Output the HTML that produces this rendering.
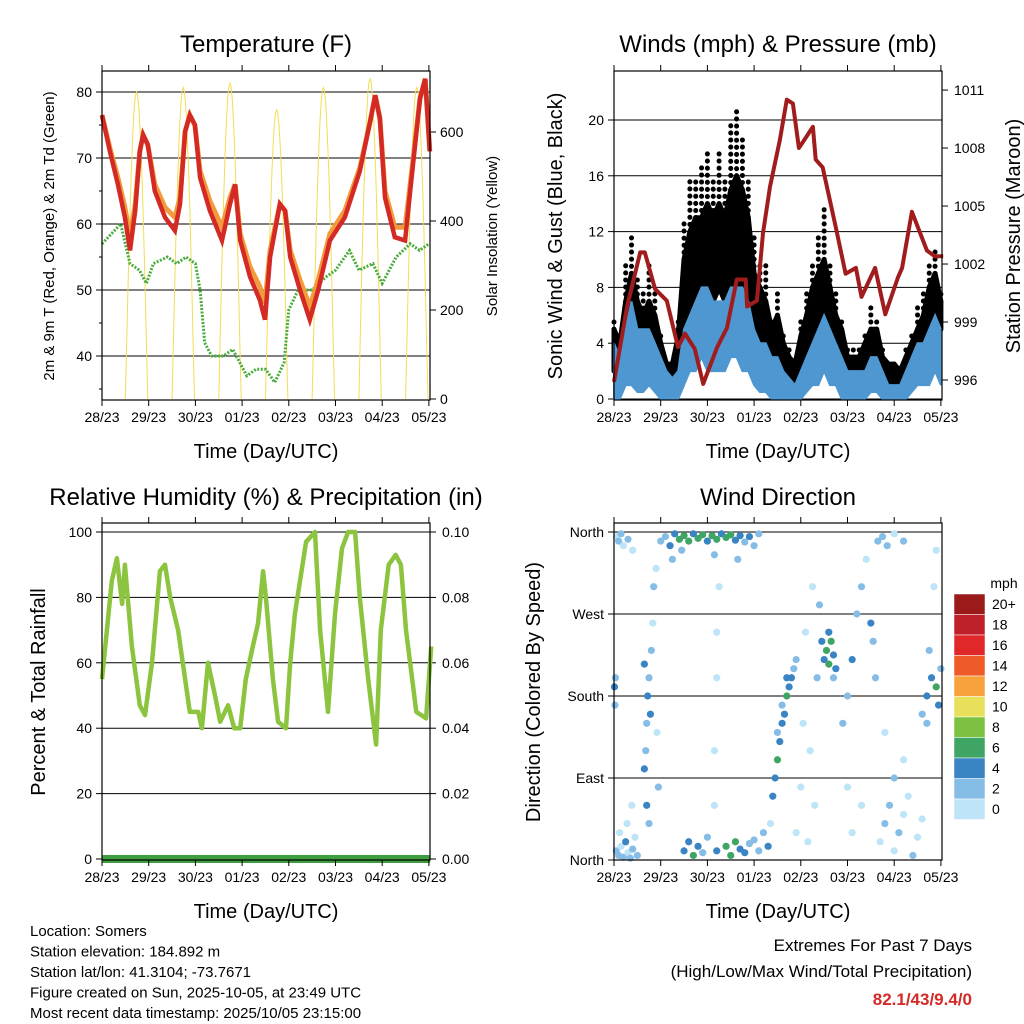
<!DOCTYPE html>
<html><head><meta charset="utf-8">
<style>
body{margin:0;background:#fff;}
svg{display:block;font-family:"Liberation Sans",Arial,sans-serif;}
</style></head>
<body>
<svg id="c" width="1024" height="1024" viewBox="0 0 1024 1024" xmlns="http://www.w3.org/2000/svg"></svg>
<script>
// ---------- DATA ----------
const dayLabels = ["28/23","29/23","30/23","01/23","02/23","03/23","04/23","05/23"];
const tempDays = [0,0.17,0.34,0.49,0.6,0.71,0.81,0.88,0.98,1.13,1.35,1.56,1.67,1.78,1.88,1.99,2.1,2.31,2.57,2.74,2.85,2.96,3.17,3.38,3.49,3.6,3.81,3.92,4.03,4.24,4.45,4.63,4.88,5.2,5.52,5.74,5.85,5.95,6.06,6.27,6.49,6.6,6.81,6.92,7.02];
const temp2m = [76.5,71,66,61,56,62,71,73.5,72,65,61,59,63,74,76.5,75,67,62,57.5,63,66,57.5,52,48.5,45.5,55,63,62,55,50,45.5,50,57.5,61,68,75.5,79.5,76,64,58,57.5,65,79,82,71];
const temp9mOffset = [0,0.5,1,1.5,2,1,0,0,0,1,1.5,2,1,0,0,0,1,1.5,2,1,0,1,1.5,2,2.5,1,0,0,1,1.5,2,1.5,1,1,0.5,0,0,0,1,1.5,2,1,0,0,0];
const dewDays = [0,0.2,0.4,0.5,0.6,0.8,0.95,1.1,1.4,1.6,1.8,2.0,2.1,2.2,2.35,2.6,2.8,2.95,3.1,3.3,3.5,3.7,3.9,4.0,4.2,4.5,4.8,5.0,5.3,5.5,5.8,6.0,6.3,6.6,6.8,7.0];
const dewVals = [57,58.5,60,57,54,53,51,54,55,54,55,54,50,42,40,40,41,39,37,38,38,36,39,47,50,50,52,53,56,53,54,51,55,57,56,57];
const solarPeakDays = [0.74,1.74,2.74,3.74,4.74,5.74,6.74];
const solarPeaks = [690,700,710,650,700,720,700];
const gustHi = [6,5,10,12,9,8,10,8,5,3,3,6,13,16,16,17,18,16,18,16,20,21,19,16,12,10,10,6,8,5,4,3,6,8,10,12,14,10,8,6,4,4,4,5,7,6,4,3,3,2.5,4,5,7,8,10,11,8];
const gustLo = [2,2,4,5,4,3,4,3,2,1,1,2,5,6,7,8,8,7,8,7,8,8,8,7,5,4,4,3,3,2,1.5,1,2,3,4,5,6,5,4,3,2,2,2,2,3,3,2,1,1,1,2,3,4,4,5,6,5];
const gustCore = [5,4,7,9,7,6,7,6,4,2.5,2.5,4.5,10,12,13,13,14,13,14,13,15,16,15,13,9,8,7,5,6,4,3,2.5,4.5,6,8,9,10,8,6,5,3,3,3,4,5,5,3,2.5,2.5,2,3,4,5,6,8,9,7];
const sonicHi = [4,3,5,7,5,5,5,4,3,2,1.5,2,5,6,7,8,8,7,7,7,8,8,8,7,5,4,4,3,3,2,1.5,1,2,3,4,5,6,5,4,3,2,2,2,2,3,3,2,1,1,1,2,3,4,4,5,6,5];
const sonicLo = [0,0,1,1,0.5,0.5,1,0.5,0,0,0,0,1,2,2,3,2,2,2,2,3,3,2,2,1,0.5,0.5,0,0,0,0,0,0,0.5,1,1,2,1,1,0,0,0,0,0,0.5,0.5,0,0,0,0,0,0.5,1,1,1,2,1];
const presDays = [0,0.28,0.56,0.66,0.88,1.13,1.37,1.52,1.73,1.91,2.21,2.42,2.63,2.82,2.85,3.06,3.19,3.34,3.55,3.7,3.83,3.96,4.07,4.26,4.32,4.47,4.75,4.96,5.18,5.3,5.59,5.81,6.08,6.17,6.38,6.7,6.87,7.05];
const presVals = [995.9,999.8,1002.6,1002.6,1000.7,1000.1,997.7,998.4,997.6,995.8,997.7,998.7,1001.2,1001.2,999.8,1000.1,1003.6,1006.0,1008.4,1010.5,1010.3,1008.0,1008.4,1009.1,1007.4,1007.0,1003.9,1001.5,1001.8,1000.3,1001.8,999.4,1001.3,1001.8,1004.7,1002.7,1002.4,1002.4];
const rhDays = [0,0.21,0.32,0.43,0.49,0.64,0.81,0.92,1.07,1.24,1.35,1.46,1.63,1.78,1.88,2.06,2.14,2.27,2.42,2.53,2.7,2.83,2.96,3.08,3.23,3.34,3.45,3.51,3.66,3.77,3.94,4.03,4.13,4.24,4.37,4.56,4.67,4.84,4.99,5.14,5.27,5.42,5.52,5.7,5.87,5.97,6.14,6.29,6.4,6.51,6.73,6.94,7.05];
const rhVals = [55,85,92,78,90,65,47,44,60,88,90,80,70,55,45,45,40,60,50,42,47,40,40,55,65,72,88,80,55,42,40,60,75,85,97,100,70,45,75,95,100,100,80,55,35,70,90,93,90,70,45,43,65];
const dirPts = [[0.05,10,2],[0.1,5,3],[0.15,15,1],[0.2,3,2],[0.25,20,4],[0.3,8,1],[0.35,2,3],[0.4,12,2],[0.45,25,1],[0.5,5,2],[0.12,30,1],[0.28,40,0],[0.38,60,1],
[0.05,355,1],[0.1,350,2],[0.15,358,3],[0.2,345,1],[0.3,352,2],[0.4,340,1],[0.01,190,4],[0.02,170,3],[0.03,200,2],
[0.65,100,4],[0.68,120,3],[0.7,150,2],[0.72,180,4],[0.75,200,3],[0.8,230,2],[0.83,260,1],[0.85,300,2],[0.9,320,1],[0.95,80,2],[0.7,60,4],[0.75,40,3],[0.65,215,4],[0.78,160,5],[0.92,140,1],
[1.0,350,2],[1.1,355,3],[1.2,345,4],[1.3,358,5],[1.4,352,6],[1.5,356,7],[1.6,350,6],[1.7,358,5],[1.8,353,7],[1.9,357,6],[2.0,350,5],[2.1,356,6],[2.2,352,7],[2.3,358,5],[2.4,354,6],[2.5,357,7],[2.6,351,5],[2.7,356,4],[2.8,349,3],[2.9,355,4],[3.0,345,2],[3.1,358,3],[1.25,330,3],[1.45,340,2],[2.15,335,3],[2.65,330,2],
[1.5,10,4],[1.6,20,5],[1.7,5,6],[1.8,15,4],[1.9,8,3],[2.0,25,2],[2.2,10,4],[2.4,15,6],[2.5,5,7],[2.6,20,6],[2.7,12,5],[2.8,8,4],[2.9,18,3],[3.0,22,2],[3.1,10,3],[3.2,30,2],[3.3,15,4],[3.35,40,1],
[2.15,60,0],[2.15,120,0],[2.2,200,1],[2.2,250,0],[2.25,300,1],
[3.4,70,4],[3.45,90,5],[3.5,110,6],[3.55,130,4],[3.6,150,5],[3.65,160,4],[3.7,180,6],[3.75,190,5],[3.8,200,4],[3.85,210,3],[3.9,220,2],[3.5,140,3],[3.6,170,3],[3.7,200,4],
[3.9,30,0],[4.0,80,1],[4.05,150,0],[4.1,250,1],[4.15,20,0],[4.2,120,1],[4.25,300,0],[4.3,60,1],[4.35,200,2],[4.4,280,3],[4.45,240,4],
[4.5,220,5],[4.55,230,6],[4.6,215,7],[4.65,240,6],[4.7,225,5],[4.75,210,4],[4.6,250,5],[4.7,200,3],
[4.9,150,3],[5.0,180,2],[5.1,220,4],[5.2,270,3],[5.3,300,2],[5.4,330,1],[5.5,260,4],[5.55,240,3],[5.6,200,2],[5.65,350,3],[5.0,80,1],[5.1,30,0],[5.3,60,1],
[5.7,20,1],[5.8,40,2],[5.9,60,3],[6.0,10,1],[6.1,30,2],[6.2,50,0],[6.3,70,1],[6.4,5,2],[6.5,25,1],[6.6,45,0],[6.0,90,2],[6.2,110,1],[5.8,140,0],
[5.75,355,2],[5.85,345,3],[6.0,358,1],[6.2,350,2],
[6.6,160,3],[6.7,180,4],[6.8,200,5],[6.9,190,6],[6.95,170,4],[7.0,210,3],[6.75,230,2],[6.85,300,1],[6.9,340,0],[6.7,150,3]];
const cbarLabels = ["20+","18","16","14","12","10","8","6","4","2","0"];
const cbarColors = ["#9b1a1a","#c0202a","#e0282a","#ef5a28","#f7a23c","#e8e05a","#7cc142","#3fa564","#3a84c4","#86bde6","#bde4f7"];

// ---------- HELPERS ----------
const NS="http://www.w3.org/2000/svg";
const svg=document.getElementById('c');
function mk(tag,attrs,parent){const e=document.createElementNS(NS,tag);for(const k in attrs)e.setAttribute(k,attrs[k]);(parent||svg).appendChild(e);return e;}
function txt(s,x,y,size,anchor,parent,extra){const t=mk('text',Object.assign({x:x,y:y,'font-size':size,'text-anchor':anchor||'middle',fill:'#000'},extra||{}),parent);t.textContent=s;return t;}
const DAYPX=46.7;
function panel(name){
  const g=mk('g',{});
  
  
  return g;
}
function frame(g,px,py,w,h){
  mk('rect',{x:px,y:py,width:w,height:h,fill:'none',stroke:'#000','stroke-width':1.2},g);
  dayLabels.forEach((l,i)=>{const x=px+i*DAYPX;
    mk('line',{x1:x,y1:py+h,x2:x,y2:py+h+6,stroke:'#000'},g);
    mk('line',{x1:x,y1:py,x2:x,y2:py-6,stroke:'#000'},g);
    const t=txt(l,x,py+h+22,14,'middle',g);
    
    
  });
  const xt=txt('Time (Day/UTC)',px+w/2,py+h+58,20,'middle',g);
  
  
}
function hgrid(g,px,w,y){mk('line',{x1:px,y1:y,x2:px+w,y2:y,stroke:'#000','stroke-width':1},g);}
function pathD(pts){return pts.map((p,i)=>(i?'L':'M')+p[0].toFixed(1)+','+p[1].toFixed(1)).join('');}

// ---------- PANEL 1: TEMPERATURE ----------
(function(){
  const px=102,py=71,w=328,h=329;
  const g=panel('temperature-panel');
  const yT=v=>356-(v-40)*6.6;
  const yS=v=>399-v*0.445;
  const x=d=>px+d*DAYPX;
  const t=txt('Temperature (F)',266,52,24,'middle',g);
  [40,50,60,70,80].forEach(v=>{hgrid(g,px,w,yT(v));txt(v,px-10,yT(v)+5,14,'end',g);mk('line',{x1:px,y1:yT(v),x2:px-6,y2:yT(v),stroke:'#000'},g);});
  [35,45,55,65,75].forEach(v=>mk('line',{x1:px,y1:yT(v),x2:px-3,y2:yT(v),stroke:'#000'},g));
  [0,200,400,600].forEach(v=>{txt(v,px+w+10,yS(v)+5,14,'start',g);mk('line',{x1:px+w,y1:yS(v),x2:px+w+6,y2:yS(v),stroke:'#000'},g);});
  solarPeakDays.forEach((d,i)=>{const pts=[];for(let k=0;k<=20;k++){const f=k/20;const dd=d-0.24+f*0.48;pts.push([x(dd),yS(solarPeaks[i]*Math.sin(Math.PI*f))]);}
    const p=mk('path',{d:pathD(pts),fill:'none',stroke:'#f3dd55','stroke-width':1},g);
    });
  const dp=mk('path',{d:pathD(dewDays.map((d,i)=>[x(d),yT(dewVals[i])])),fill:'none',stroke:'#4aac3c','stroke-width':3,'stroke-dasharray':'2 1.5'},g);
  
  const o=mk('path',{d:pathD(tempDays.map((d,i)=>[x(d),yT(temp2m[i]+temp9mOffset[i])])),fill:'none',stroke:'#f39a3a','stroke-width':5},g);
  
  const r=mk('path',{d:pathD(tempDays.map((d,i)=>[x(d),yT(temp2m[i])])),fill:'none',stroke:'#d42a26','stroke-width':4.5},g);
  
  frame(g,px,py,w,h);
  const yl=txt('2m & 9m T (Red, Orange) & 2m Td (Green)',0,0,15,'middle',g,{transform:'translate(54,236) rotate(-90)'});
  
  const yr=txt('Solar Insolation (Yellow)',0,0,15,'middle',g,{transform:'translate(497,236) rotate(-90)'});
  
})();

// ---------- PANEL 2: WINDS ----------
(function(){
  const px=614,py=71,w=328,h=329;
  const g=panel('winds-pressure-panel');
  const yW=v=>399-v*13.95;
  const yP=v=>380-(v-996)*19.33;
  const x=d=>px+d*DAYPX;
  const t=txt('Winds (mph) & Pressure (mb)',778,52,24,'middle',g);
  [0,4,8,12,16,20].forEach(v=>{hgrid(g,px,w,yW(v));txt(v,px-10,yW(v)+5,14,'end',g);mk('line',{x1:px,y1:yW(v),x2:px-6,y2:yW(v),stroke:'#000'},g);});
  [996,999,1002,1005,1008,1011].forEach(v=>{txt(v,px+w+12,yP(v)+5,14,'start',g);mk('line',{x1:px+w,y1:yP(v),x2:px+w+6,y2:yP(v),stroke:'#000'},g);});
  const step=3/24;
  // gust core area
  const gtop=gustCore.map((v,i)=>[x(i*step),yW(v)]);
  const gbot=gustLo.map((v,i)=>[x(i*step),yW(v)]).reverse();
  const ga=mk('path',{d:pathD(gtop.concat(gbot))+'Z',fill:'#000',stroke:'#000','stroke-width':5,'stroke-linejoin':'round'},g);
  
  gustHi.forEach((v,i)=>{const xx=x(i*step);
    const gl=mk('line',{x1:xx,y1:yW(gustCore[i]),x2:xx,y2:yW(v),stroke:'#000','stroke-width':5,'stroke-linecap':'round','stroke-dasharray':'0.1 7'},g);
    
  });
  const top=sonicHi.map((v,i)=>[x(i*step),yW(v)]);
  const bot=sonicLo.map((v,i)=>[x(i*step),yW(v)]).reverse();
  const b=mk('path',{d:pathD(top.concat(bot))+'Z',fill:'#4f97d0',stroke:'#4f97d0','stroke-width':2},g);
  
  const p=mk('path',{d:pathD(presDays.map((d,i)=>[x(d),yP(presVals[i])])),fill:'none',stroke:'#a11d1d','stroke-width':4,'stroke-linejoin':'round'},g);
  
  frame(g,px,py,w,h);
  const yl=txt('Sonic Wind & Gust (Blue, Black)',0,0,20,'middle',g,{transform:'translate(562,236) rotate(-90)'});
  
  const yr=txt('Station Pressure (Maroon)',0,0,20,'middle',g,{transform:'translate(1020,236) rotate(-90)'});
  
})();

// ---------- PANEL 3: RH ----------
(function(){
  const px=102,py=523,w=328,h=337;
  const g=panel('humidity-panel');
  const y=v=>859-v*3.27;
  const x=d=>px+d*DAYPX;
  const t=txt('Relative Humidity (%) & Precipitation (in)',266,505,24,'middle',g);
  [0,20,40,60,80,100].forEach((v,i)=>{hgrid(g,px,w,y(v));txt(v,px-10,y(v)+5,14,'end',g);mk('line',{x1:px,y1:y(v),x2:px-6,y2:y(v),stroke:'#000'},g);
    txt((i*0.02).toFixed(2),px+w+12,y(v)+5,14,'start',g);mk('line',{x1:px+w,y1:y(v),x2:px+w+6,y2:y(v),stroke:'#000'},g);});
  const pr=mk('line',{x1:px,y1:y(0),x2:px+w,y2:y(0),stroke:'#3f9e3f','stroke-width':8},g);
  
  const r=mk('path',{d:pathD(rhDays.map((d,i)=>[x(d),y(rhVals[i])])),fill:'none',stroke:'#8cc43f','stroke-width':4.5,'stroke-linejoin':'round'},g);
  
  frame(g,px,py,w,h);
  const yl=txt('Percent & Total Rainfall',0,0,20,'middle',g,{transform:'translate(45,692) rotate(-90)'});
  
})();

// ---------- PANEL 4: WIND DIRECTION ----------
(function(){
  const px=614,py=523,w=328,h=337;
  const g=panel('wind-direction-panel');
  const y=deg=>860-deg*(328/360);
  const x=d=>px+d*DAYPX;
  const t=txt('Wind Direction',778,505,24,'middle',g);
  [['North',0],['East',90],['South',180],['West',270],['North',360]].forEach(a=>{hgrid(g,px,w,y(a[1]));txt(a[0],px-10,y(a[1])+5,14,'end',g);mk('line',{x1:px,y1:y(a[1]),x2:px-6,y2:y(a[1]),stroke:'#000'},g);});
  function col(s){let idx=Math.min(10,Math.floor(s/2));return cbarColors[10-idx];}
  dirPts.forEach(p=>{
    const c=mk('circle',{cx:x(p[0]),cy:y(p[1]),r:3.6,fill:col(p[2])},g);
    });
  frame(g,px,py,w,h);
  const yl=txt('Direction (Colored By Speed)',0,0,20,'middle',g,{transform:'translate(540,692) rotate(-90)'});
  
  const cb=mk('g',{},svg);
  
  txt('mph',1004,588,14,'middle',cb);
  cbarLabels.forEach((l,i)=>{const yy=594+i*20.5;
    mk('rect',{x:954,y:yy,width:31,height:20.5,fill:cbarColors[i],stroke:'#fff','stroke-width':0.5},cb);
    txt(l,992,yy+15,14,'start',cb);});
})();

// ---------- FOOTER ----------
(function(){
  const g=mk('g',{});
  
  ["Location: Somers","Station elevation: 184.892 m","Station lat/lon: 41.3104; -73.7671","Figure created on Sun, 2025-10-05, at 23:49 UTC","Most recent data timestamp: 2025/10/05 23:15:00"].forEach((s,i)=>txt(s,30,936+i*20.5,15,'start',g));
  const e=mk('g',{});
  
  txt('Extremes For Past 7 Days',972,951,17,'end',e);
  txt('(High/Low/Max Wind/Total Precipitation)',972,977,17,'end',e);
  txt('82.1/43/9.4/0',972,1005,17,'end',e,{fill:'#d42a26','font-weight':'bold'});
})();
</script>
</body></html>
